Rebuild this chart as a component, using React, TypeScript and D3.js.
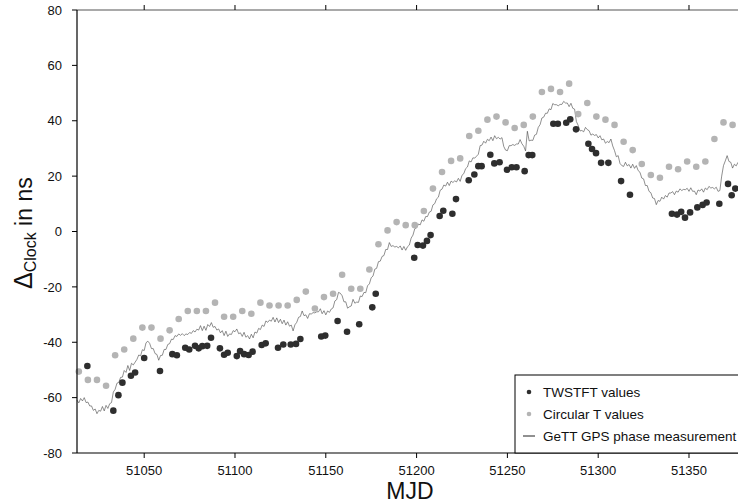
import React from "react";
import * as d3 from "d3";

const X_TICKS = [51050, 51100, 51150, 51200, 51250, 51300, 51350];
const Y_TICKS = [-80, -60, -40, -20, 0, 20, 40, 60, 80];

// Circular T values (every 5 days from 51014)
const CIRC_START = 51014;
const CIRC_STEP = 5;
const CIRC_VALUES = [
  -50.6, -53.6, -53.6, -55.7, -44.7, -42.6, -38.7, -34.7, -34.7, -38.7,
  -35.7, -31.6, -28.7, -28.7, -28.7, -25.7, -30.8, -30.8, -28.7, -29.7,
  -25.7, -26.7, -26.7, -26.7, -24.7, -21.7, -27.8, -23.7, -22.5, -15.6,
  -20.7, -20.7, -13.7, -4.6, 0.4, 3.4, 2.3, 2.3, 7.4, 15.5,
  21.5, 25.5, 26.4, 34.5, 36.4, 40.4, 41.5, 39.4, 37.4, 38.5,
  41.5, 50.4, 51.5, 50.4, 53.4, 42.4, 46.4, 41.5, 40.4, 38.5,
  32.4, 29.4, 24.4, 20.4, 19.4, 23.4, 22.5, 25.3, 23.4, 25.3,
  33.4, 39.4, 38.5,
];

// TWSTFT values
const TW_MJD = [
  51018.7, 51033, 51035.8, 51038, 51042.7, 51045, 51050, 51058.7, 51065.5, 51068,
  51072.6, 51074.8, 51078, 51080, 51082, 51084.7, 51086.8, 51091.7, 51094, 51096,
  51101, 51102.8, 51105, 51107.5, 51109.7, 51114.7, 51116.9, 51123.7, 51126.6, 51130.7,
  51133.6, 51136, 51147.5, 51149.7, 51156.5, 51161.7, 51168.4, 51175.6, 51177.5, 51198.7,
  51200.6, 51203.5, 51205.7, 51207.7, 51212.7, 51214.7, 51219.7, 51221.7, 51228.7, 51231.8,
  51234, 51235.8, 51240.6, 51242.8, 51245.7, 51249.8, 51252.4, 51255, 51259.5, 51261.7,
  51263.7, 51275.3, 51277.8, 51282.4, 51284.6, 51287.8, 51294.6, 51296.6, 51298.8, 51301.6,
  51305.6, 51312.6, 51317.5, 51340.6, 51343.4, 51345.7, 51347.8, 51350.6, 51354.6, 51357.5,
  51359.7, 51366.7, 51371.5, 51373.5, 51375.5,
];
const TW_VALUES = [
  -48.6, -64.7, -59.1, -54.6, -52.1, -50.9, -45.7, -50.4, -44.3, -44.7,
  -42.0, -42.6, -41.3, -42.2, -41.4, -41.3, -38.4, -42.2, -44.5, -43.8,
  -45.0, -43.2, -44.3, -44.6, -43.4, -41.0, -40.4, -42.0, -40.8, -40.8,
  -40.6, -38.8, -37.9, -37.6, -32.3, -36.2, -33.5, -27.4, -22.5, -9.5,
  -4.9, -5.1, -3.4, -1.3, 5.6, 7.5, 6.4, 11.7, 18.5, 20.6,
  23.6, 23.6, 27.7, 24.6, 25.0, 22.3, 23.2, 23.2, 21.8, 27.6,
  27.6, 38.9, 38.9, 39.3, 40.5, 36.9, 31.7, 29.8, 28.3, 24.8,
  24.8, 18.2, 13.3, 6.4, 6.1, 7.1, 5.0, 6.9, 8.7, 9.6,
  10.5, 10.0, 17.2, 13.1, 15.5,
];

// GeTT GPS phase measurement, daily from 51013
const GPS_START = 51013;
const GPS_VALUES = [
  -60.9, -61.9, -60.3, -61.2, -60.0, -61.8, -61.6, -63.0,
  -63.0, -64.6, -64.1, -65.8, -64.6, -64.9, -63.2, -64.8, -62.8, -63.9,
  -62.2, -61.8, -58.0, -57.0, -54.8, -54.5, -52.7, -52.6, -50.2, -50.9,
  -48.4, -50.2, -47.6, -48.2, -47.2, -46.2, -44.6, -44.9, -42.7, -43.0,
  -40.2, -39.6, -40.4, -42.3, -42.3, -44.1, -44.4, -46.5, -44.8, -44.7,
  -42.6, -42.6, -40.8, -40.5, -38.9, -39.0, -37.6, -37.9, -37.0, -37.5,
  -36.9, -37.6, -37.0, -37.2, -36.5, -36.8, -35.8, -36.3, -35.3, -35.6,
  -34.0, -35.8, -34.2, -35.7, -33.6, -34.3, -32.9, -34.6, -34.3, -35.6,
  -35.2, -36.6, -35.8, -37.6, -36.0, -37.9, -37.0, -37.2, -35.8, -36.2,
  -35.2, -36.9, -36.6, -37.9, -36.4, -38.2, -37.6, -38.8, -37.1, -38.4,
  -36.3, -36.7, -35.0, -35.4, -33.8, -34.3, -32.3, -32.8, -32.0, -32.4,
  -31.0, -32.7, -31.2, -32.9, -31.7, -33.3, -32.0, -33.8, -32.6, -34.2,
  -33.8, -35.9, -33.7, -32.8, -31.0, -30.7, -28.7, -30.4, -30.1, -31.4,
  -29.7, -29.8, -29.3, -29.4, -29.0, -29.0, -27.9, -29.7, -28.6, -30.1,
  -28.7, -29.2, -28.0, -27.6, -25.1, -24.6, -22.0, -22.3, -23.2, -25.4,
  -25.4, -27.7, -27.2, -26.9, -24.5, -25.9, -25.5, -25.6, -23.3, -23.5,
  -22.0, -22.1, -19.6, -18.9, -16.7, -16.1, -13.6, -13.3, -10.9, -10.7,
  -9.0, -8.7, -6.5, -6.5, -4.0, -5.4, -5.1, -5.6, -5.4, -5.9,
  -5.2, -6.7, -5.4, -6.8, -5.5, -4.9, -2.4, -1.3, 1.0, 1.3,
  2.7, 2.4, 4.2, 3.7, 5.4, 5.4, 7.0, 7.3, 9.6, 10.1,
  11.8, 12.4, 14.9, 15.3, 16.8, 16.4, 17.8, 16.6, 18.2, 17.7,
  18.3, 17.9, 19.2, 18.1, 20.3, 20.9, 22.7, 23.3, 25.5, 25.1,
  26.6, 26.5, 27.2, 27.9, 31.0, 31.2, 32.6, 31.9, 33.3, 32.8,
  34.1, 32.8, 34.6, 33.5, 34.0, 33.4, 33.9, 30.7, 29.4, 29.2,
  31.0, 31.0, 31.4, 31.1, 31.6, 31.6, 33.2, 31.7, 30.8, 29.1,
  36.2, 32.7, 33.0, 32.9, 34.8, 35.1, 37.6, 38.6, 41.0, 41.3,
  42.7, 42.7, 44.3, 44.0, 46.2, 45.8, 45.8, 45.4, 45.9, 45.9,
  47.0, 46.4, 46.4, 45.1, 46.3, 44.5, 44.2, 39.7, 38.3, 36.3,
  36.5, 36.0, 37.6, 36.8, 36.4, 34.8, 35.2, 34.7, 35.0, 33.8,
  34.6, 33.1, 33.4, 31.9, 32.5, 32.1, 33.4, 30.9, 29.2, 27.0,
  27.4, 24.6, 23.8, 23.5, 25.0, 23.7, 24.2, 22.9, 24.3, 22.8,
  23.8, 22.0, 21.4, 19.3, 19.0, 16.6, 16.6, 14.5, 14.0, 12.1,
  11.9, 9.7, 11.2, 10.9, 12.4, 11.7, 13.0, 12.4, 13.9, 13.9,
  14.4, 13.3, 14.6, 14.2, 15.4, 14.8, 15.2, 15.1, 15.6, 14.5,
  15.8, 14.5, 14.6, 13.3, 15.0, 14.6, 15.4, 14.2, 15.7, 15.1,
  16.3, 15.7, 15.9, 15.4, 16.0, 14.5, 14.8, 20.0, 23.8, 25.5,
  27.4, 25.3, 25.0, 22.9, 24.3, 23.7, 25.0, 24.4, 24.8, 24.3,
];

const LEGEND = ["TWSTFT values", "Circular T values", "GeTT GPS phase measurement"];

export default function App() {
  const W = 738, H = 504;
  const left = 77, top = 10, bottom = 453;
  const x = d3.scaleLinear().domain([51013, 51380]).range([left, left + 367 * 1.816]);
  const y = d3.scaleLinear().domain([-80, 80]).range([bottom, top]);
  const font = "Liberation Sans, Arial, sans-serif";

  const gps = GPS_VALUES.map((v, i) => [GPS_START + i, v] as [number, number]);
  const line = d3.line<[number, number]>().x((d) => x(d[0])).y((d) => y(d[1]));
  const circ = CIRC_VALUES.map((v, i) => [CIRC_START + i * CIRC_STEP, v]);
  const tw = TW_VALUES.map((v, i) => [TW_MJD[i], v]);

  return (
    <svg width={W} height={H} style={{ position: "absolute", left: 0, top: 0, background: "#fff" }} fontFamily={font}>
      <rect x={0} y={0} width={W} height={H} fill="#fff" />
      <path d={line(gps) || ""} fill="none" stroke="#444" strokeWidth={0.6} />
      {circ.map((d, i) => (
        <circle key={"c" + i} cx={x(d[0])} cy={y(d[1])} r={3.3} fill="#b4b4b4" />
      ))}
      {tw.map((d, i) => (
        <circle key={"t" + i} cx={x(d[0])} cy={y(d[1])} r={3.3} fill="#2e2e2e" />
      ))}

      {/* top axis */}
      <line x1={left} x2={W} y1={top} y2={top} stroke="#555" strokeWidth={1.2} />
      {X_TICKS.map((t) => (
        <line key={"tt" + t} x1={x(t)} x2={x(t)} y1={top} y2={top - 5} stroke="#000" strokeWidth={1} />
      ))}
      {/* left axis */}
      <line x1={left} x2={left} y1={top} y2={bottom} stroke="#000" strokeWidth={1.2} />
      {Y_TICKS.map((t) => (
        <g key={"y" + t}>
          <line x1={left - 5} x2={left} y1={y(t)} y2={y(t)} stroke="#000" strokeWidth={1} />
          <text x={62} y={y(t)} dy="0.36em" textAnchor="end" fontSize={13} fill="#111">{t}</text>
        </g>
      ))}
      {/* bottom axis */}
      <line x1={left} x2={W} y1={bottom} y2={bottom} stroke="#000" strokeWidth={1.2} />
      {X_TICKS.map((t) => (
        <g key={"x" + t}>
          <line x1={x(t)} x2={x(t)} y1={bottom} y2={bottom + 5} stroke="#000" strokeWidth={1} />
          <text x={x(t)} y={475} textAnchor="middle" fontSize={13} fill="#111">{t}</text>
        </g>
      ))}
      <text x={410} y={499} textAnchor="middle" fontSize={23} fill="#111">MJD</text>
      <text transform="translate(32,289) rotate(-90)" fontSize={23} fill="#111">
        <tspan fontSize={25}>Δ</tspan>
        <tspan fontSize={16} dy={4}>Clock</tspan>
        <tspan dy={-4}> in ns</tspan>
      </text>

      {/* legend */}
      <rect x={515} y={375} width={240} height={bottom - 375} fill="#fff" stroke="#000" strokeWidth={1} />
      <circle cx={529} cy={392} r={2.3} fill="#2e2e2e" />
      <circle cx={529} cy={414} r={2.3} fill="#b4b4b4" />
      <line x1={523} x2={535} y1={436} y2={436} stroke="#222" strokeWidth={1} />
      {LEGEND.map((s, i) => (
        <text key={s} x={543} y={396.5 + i * 22} fontSize={13.5} fill="#111">{s}</text>
      ))}
    </svg>
  );
}
